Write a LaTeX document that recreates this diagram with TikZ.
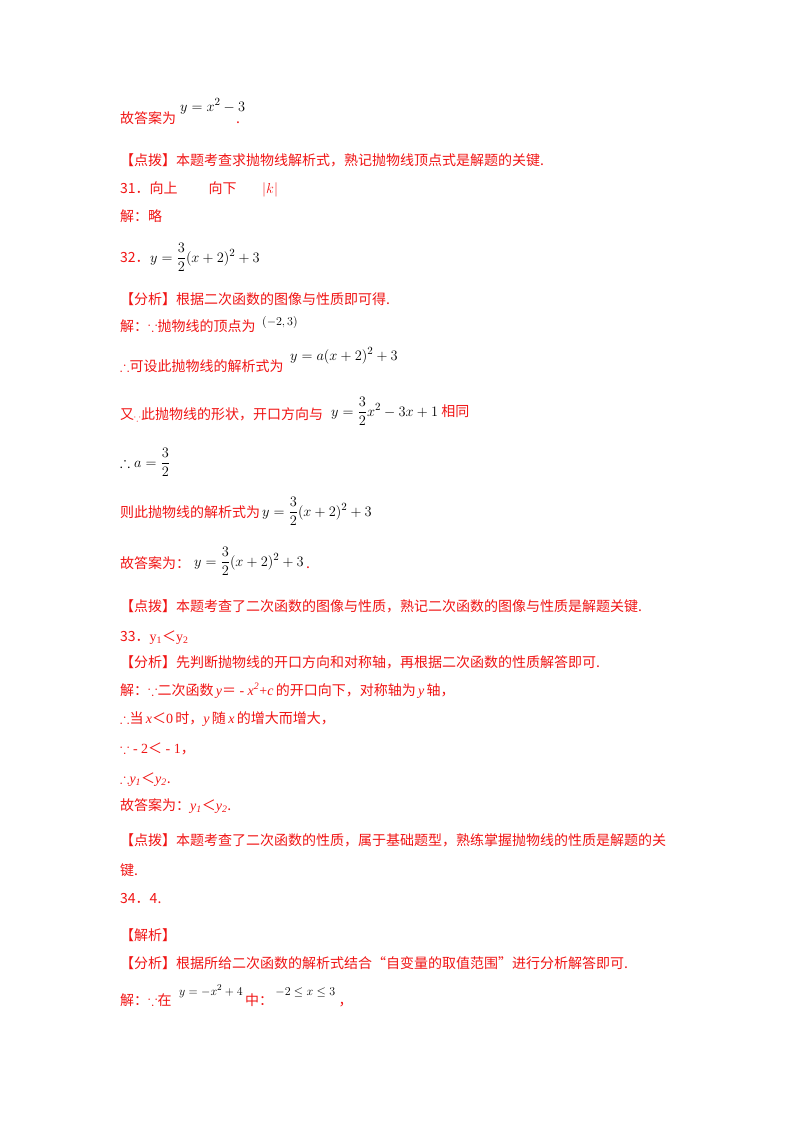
\documentclass[tikz,border=0pt]{standalone}
\usepackage{amsmath,amssymb}
\usepackage{fontspec}
\setmainfont{Liberation Serif}
\newfontfamily\cjk{Noto Sans CJK SC}
\newcommand{\vi}[1]{{\rmfamily\itshape #1}}
\newcommand{\vr}[1]{{\rmfamily #1}}
\definecolor{tred}{RGB}{240,20,20}
\begin{document}
\begin{tikzpicture}[x=1pt,y=-1pt,
  t/.style={anchor=base west,inner sep=0pt,text=tred,font=\cjk\fontsize{14}{16}\selectfont},
  m/.style={anchor=base west,inner sep=0pt,text=black,font=\fontsize{15}{17}\selectfont}]
\useasboundingbox (0,0) rectangle (800,1132);
\node[t] (a1) at (120,123) {故答案为};
\node[m] (a2) at (180,111) {$y=x^2-3$};
\node[t] (a3) at (236,123) {.};
\node[t] (b1) at (120,165) {【点拨】本题考查求抛物线解析式，熟记抛物线顶点式是解题的关键.};
\node[t] (c1) at (120,193) {31．向上\hspace{2.2em}向下};
\node[m,text=tred] (c2) at (262,193) {$|k|$};
\node[t] (d1) at (120,221) {解：略};
\node[t] (e1) at (120,262) {32．};
\node[m] (e2) at (150,262) {$y=\dfrac{3}{2}(x+2)^2+3$};
\node[t] (f1) at (120,304) {【分析】根据二次函数的图像与性质即可得.};
\node[t] (g1) at (120,331) {解：$\because$抛物线的顶点为};
\node[m,font=\fontsize{12}{14}\selectfont] (g2) at (262,325) {$(-2,3)$};
\node[t] (h1) at (120,371) {$\therefore$可设此抛物线的解析式为};
\node[m] (h2) at (290,360) {$y=a(x+2)^2+3$};
\node[t] (i1) at (120,419) {又$_\because$此抛物线的形状，开口方向与};
\node[m] (i2) at (331,416) {$y=\dfrac{3}{2}x^2-3x+1$};
\node[t,anchor=base west] (i3) at ([xshift=3pt]i2.base east) {相同};
\node[m] (j1) at (120,467) {$\therefore a=\dfrac{3}{2}$};
\node[t] (k1) at (120,517) {则此抛物线的解析式为};
\node[m] (k2) at (262,516) {$y=\dfrac{3}{2}(x+2)^2+3$};
\node[t] (l1) at (120,568) {故答案为：};
\node[m] (l2) at (194,566) {$y=\dfrac{3}{2}(x+2)^2+3$};
\node[t] (l3) at ([xshift=2pt,yshift=-2pt]l2.base east) {.};
\node[t] (n1) at (120,611) {【点拨】本题考查了二次函数的图像与性质，熟记二次函数的图像与性质是解题关键.};
\node[t] (o1) at (120,641) {33．\vr{y\textsubscript{1}}＜\vr{y\textsubscript{2}}};
\node[t] (p1) at (120,667) {【分析】先判断抛物线的开口方向和对称轴，再根据二次函数的性质解答即可.};
\node[t] (q1) at (120,695) {解：$\because$二次函数\,\vi{y}＝\vr{ - }\vi{x\textsuperscript{2}}\vr{+}\vi{c}\,的开口向下，对称轴为\,\vi{y}\,轴，};
\node[t] (r1) at (120,723) {$\therefore$当\,\vi{x}＜\vr{0}\,时，\vi{y}\,随\,\vi{x}\,的增大而增大，};
\node[t] (s1) at (120,753) {$\because$\vr{ - 2}＜\vr{ - 1}，};
\node[t] (u1) at (120,783) {$\therefore$\vi{y\textsubscript{1}}＜\vi{y\textsubscript{2}}.};
\node[t] (v1) at (120,810) {故答案为：\vi{y\textsubscript{1}}＜\vi{y\textsubscript{2}}.};
\node[t] (w1) at (120,845) {【点拨】本题考查了二次函数的性质，属于基础题型，熟练掌握抛物线的性质是解题的关};
\node[t] (w2) at (120,875) {键.};
\node[t] (x1) at (120,903) {34．4.};
\node[t] (y1) at (120,940) {【解析】};
\node[t] (z1) at (120,968) {【分析】根据所给二次函数的解析式结合“自变量的取值范围”进行分析解答即可.};
\node[t] (z2) at (120,1005) {解：$\because$在};
\node[m,font=\fontsize{13}{15}\selectfont] (z3) at (179,995) {$y=-x^2+4$};
\node[t] (z4) at ([xshift=2pt,yshift=-10pt]z3.base east) {中：};
\node[m,font=\fontsize{13}{15}\selectfont] (z5) at ([xshift=2pt,yshift=10pt]z4.base east) {$-2\le x\le 3$};
\node[t] (z6) at ([xshift=3pt,yshift=-10pt]z5.base east) {，};
\end{tikzpicture}
\end{document}
